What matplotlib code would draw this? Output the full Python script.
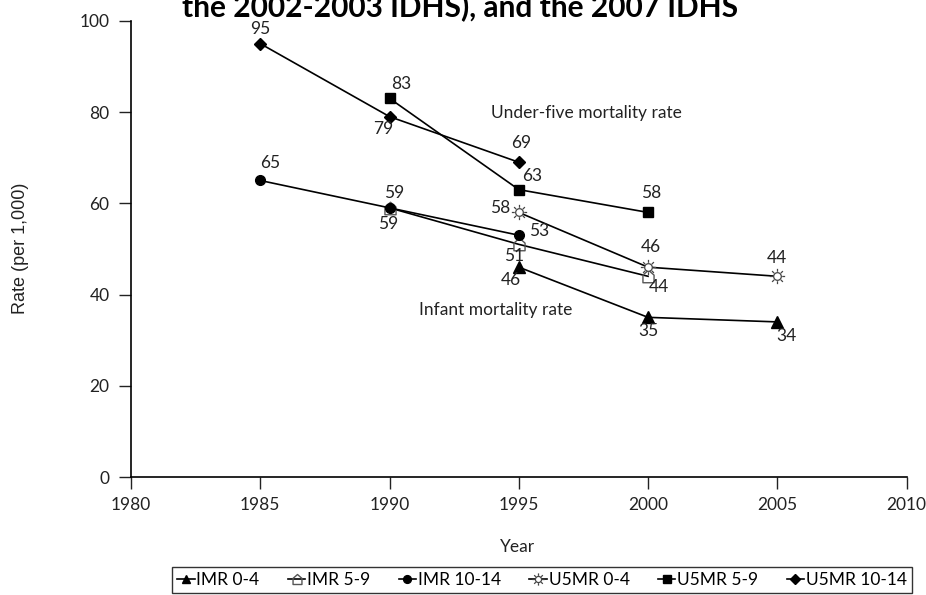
import matplotlib
matplotlib.use("Agg")
import matplotlib.pyplot as plt
from matplotlib.path import Path
import numpy as np

plt.rcParams['font.family'] = ['Lato', 'DejaVu Sans']

# ---- data ----
imr04_years = [1995, 2000, 2005]
imr04_vals = [46, 35, 34]
imr59_years = [1990, 1995, 2000]
imr59_vals = [59, 51, 44]
imr1014_years = [1985, 1990, 1995]
imr1014_vals = [65, 59, 53]
u5_04_years = [1995, 2000, 2005]
u5_04_vals = [58, 46, 44]
u5_59_years = [1990, 1995, 2000]
u5_59_vals = [83, 63, 58]
u5_1014_years = [1985, 1990, 1995]
u5_1014_vals = [95, 79, 69]

series_labels = ["IMR 0-4", "IMR 5-9", "IMR 10-14", "U5MR 0-4", "U5MR 5-9", "U5MR 10-14"]
x_ticks = [1980, 1985, 1990, 1995, 2000, 2005, 2010]
y_ticks = [0, 20, 40, 60, 80, 100]

# ---- custom markers ----
house = Path([(-0.8, -0.9), (0.8, -0.9), (0.8, 0.2), (0.0, 0.9), (-0.8, 0.2), (-0.8, -0.9)],
             [Path.MOVETO, Path.LINETO, Path.LINETO, Path.LINETO, Path.LINETO, Path.CLOSEPOLY])
circ = Path.circle((0, 0), 0.5)
verts = list(circ.vertices)
codes = list(circ.codes)
for a in np.arange(8) * np.pi / 4:
    verts += [(0.62 * np.cos(a), 0.62 * np.sin(a)), (1.0 * np.cos(a), 1.0 * np.sin(a))]
    codes += [Path.MOVETO, Path.LINETO]
sun = Path(verts, codes)

FS = 12.5
TXT = '#222222'

fig = plt.figure(figsize=(9.26, 5.95), dpi=100)
ax = fig.add_axes([0.1415, 0.1983, 0.8375, 0.7667])

lw = 1.2
l1, = ax.plot(imr04_years, imr04_vals, color='black', lw=lw, marker='^', ms=8, label=series_labels[0])
l2, = ax.plot(imr59_years, imr59_vals, color='black', lw=lw, marker=house, ms=9,
              mfc='none', mec='#555555', mew=1.0, label=series_labels[1])
l3, = ax.plot(imr1014_years, imr1014_vals, color='black', lw=lw, marker='o', ms=7, label=series_labels[2])
l4, = ax.plot(u5_04_years, u5_04_vals, color='black', lw=lw, marker=sun, ms=11,
              mfc='white', mec='#444444', mew=0.9, label=series_labels[3])
l5, = ax.plot(u5_59_years, u5_59_vals, color='black', lw=lw, marker='s', ms=6.5, label=series_labels[4])
l6, = ax.plot(u5_1014_years, u5_1014_vals, color='black', lw=lw, marker='D', ms=6.5, label=series_labels[5])

ax.set_xlim(1980, 2010)
ax.set_ylim(0, 100)
ax.set_xticks(x_ticks)
ax.set_yticks(y_ticks)
ax.tick_params(axis='both', labelsize=FS, length=8.5, width=1.0, direction='out', colors=TXT)
ax.tick_params(axis='y', pad=7)
ax.tick_params(axis='x', pad=6)
for s in ['top', 'right']:
    ax.spines[s].set_visible(False)
for s in ['left', 'bottom']:
    ax.spines[s].set_linewidth(1.2)

fig.text(0.559, 1 - 547 / 595, "Year", ha='center', va='center', fontsize=FS, color=TXT)
fig.text(0.022, 0.583, "Rate (per 1,000)", rotation=90, ha='center', va='center',
         fontsize=13, color=TXT, family=['Liberation Sans', 'DejaVu Sans'])

# point labels (offsets in pixels)
labels = [
    (u5_1014_years, u5_1014_vals, [(0, 15), (-6, -12), (2, 19)]),
    (u5_59_years, u5_59_vals, [(12, 14), (13, 14), (3, 19)]),
    (u5_04_years, u5_04_vals, [(-19, 4), (3, 20), (0, 18)]),
    (imr1014_years, imr1014_vals, [(10, 17), (5, 15), (20, 4)]),
    (imr59_years, imr59_vals, [(-1, -16), (-5, -12), (11, -11)]),
    (imr04_years, imr04_vals, [(-8, -13), (0, -14), (9, -14)]),
]
for xs, vs, offs in labels:
    for x, v, (dx, dy) in zip(xs, vs, offs):
        ax.annotate(str(v), (x, v), xytext=(dx, dy), textcoords='offset pixels',
                    ha='center', va='center', fontsize=FS, color=TXT)

ax.text(1997.6, 79.8, "Under-five mortality rate", ha='center', va='center', fontsize=FS, color=TXT)
ax.text(1994.1, 36.6, "Infant mortality rate", ha='center', va='center', fontsize=FS, color=TXT)

fig.text(0.497, 0.973, "the 2002-2003 IDHS), and the 2007 IDHS", ha='center', va='baseline',
         fontsize=21.5, fontweight='bold')

leg = fig.legend(handles=[l1, l2, l3, l4, l5, l6], loc='upper left',
                 bbox_to_anchor=(172 / 926, 1 - 567 / 595, (912 - 172) / 926, 0.0),
                 mode='expand', ncol=6, fontsize=FS, frameon=True, fancybox=False,
                 handlelength=1.0, handletextpad=0.1, columnspacing=0.5, borderpad=0.3,
                 borderaxespad=0.0, markerscale=0.8)
leg.get_frame().set_edgecolor('black')
leg.get_frame().set_linewidth(1.0)

fig.savefig("out.png", dpi=100)
